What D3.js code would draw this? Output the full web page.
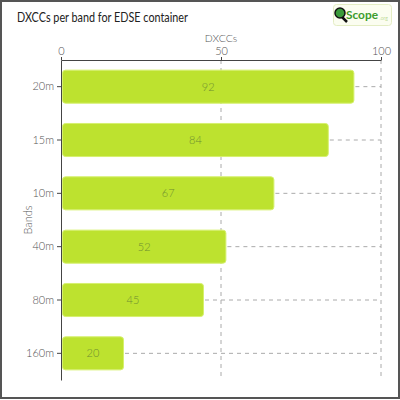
<!DOCTYPE html>
<html><head><meta charset="utf-8">
<script src="https://cdn.jsdelivr.net/npm/d3@7"></script>
<style>
html,body{margin:0;padding:0;background:#fff;}
svg{display:block;font-family:Lato,"Open Sans",sans-serif;font-weight:300;}
</style></head>
<body>
<svg id="c" width="400" height="400"></svg>
<script>
const bands = ["20m","15m","10m","40m","80m","160m"];
const dxccs = [92,84,67,52,45,20];
const xTicks = [0,50,100];
const title = "DXCCs per band for EDSE container";
const xLabel = "DXCCs";
const yLabel = "Bands";

const svg = d3.select("#c");
// outer frame
svg.append("rect").attr("x",1).attr("y",1).attr("width",398).attr("height",397)
  .attr("fill","#fff").attr("stroke","#555").attr("stroke-width",2);

svg.append("text").attr("x",17).attr("y",22).attr("font-size",12.5).attr("fill","#222")
  .attr("textLength",171).attr("lengthAdjust","spacingAndGlyphs")
  .attr("font-weight",400).text(title);

// logo
const lg = svg.append("g").attr("transform","translate(333,4)");
lg.append("rect").attr("x",0.5).attr("y",0.5).attr("width",58).attr("height",21).attr("rx",3)
  .attr("fill","#fbfdf0").attr("stroke","#e4edc4");
lg.append("line").attr("x1",8).attr("y1",12).attr("x2",14).attr("y2",18).attr("stroke","#111").attr("stroke-width",2.5);
lg.append("circle").attr("cx",7).attr("cy",9).attr("r",5).attr("fill","#3a9a3a").attr("stroke","#111").attr("stroke-width",1.5);
lg.append("text").attr("x",13).attr("y",15).attr("font-size",12).attr("font-weight",700)
  .attr("textLength",32).attr("lengthAdjust","spacingAndGlyphs")
  .attr("fill","#3c9c2c").text("Scope");
lg.append("text").attr("x",46.5).attr("y",16).attr("font-size",5).attr("fill","#8cc04a").text(".org");

const m = {l:61, r:381, t:60, b:380};
const x = d3.scaleLinear().domain([0,100]).range([m.l,m.r]);
const y = d3.scaleBand().domain(bands).range([m.t,m.b]).paddingInner(0.38).paddingOuter(0.19);

// vertical grid
svg.append("g").selectAll("line").data(xTicks.filter(d=>d>0)).join("line")
  .attr("x1",d=>x(d)).attr("x2",d=>x(d)).attr("y1",m.t).attr("y2",m.b)
  .attr("stroke","#aaa").attr("stroke-dasharray","4,4");

// horizontal dashed lines from bar end
svg.append("g").selectAll("line").data(dxccs).join("line")
  .attr("x1",d=>x(d)).attr("x2",m.r).attr("y1",(d,i)=>y(bands[i])+y.bandwidth()/2)
  .attr("y2",(d,i)=>y(bands[i])+y.bandwidth()/2)
  .attr("stroke","#aaa").attr("stroke-dasharray","4,4");

// bars
svg.append("g").selectAll("rect").data(dxccs).join("rect")
  .attr("x",x(0)+1.5).attr("y",(d,i)=>y(bands[i]))
  .attr("width",d=>x(d)-x(0)-3).attr("height",y.bandwidth())
  .attr("rx",3).attr("fill","#bde22f").attr("stroke","#d6f06e").attr("stroke-width",1);

svg.append("g").selectAll("text").data(dxccs).join("text")
  .attr("x",d=>(x(0)+x(d))/2).attr("y",(d,i)=>y(bands[i])+y.bandwidth()/2)
  .attr("dy","0.35em").attr("text-anchor","middle").attr("font-size",11)
  .attr("fill","#6f8f2f").text(d=>d);

// axes
const xa = svg.append("g").attr("transform",`translate(0,${m.t})`)
  .call(d3.axisTop(x).tickValues(xTicks).tickSize(3).tickPadding(2).tickSizeOuter(0));
xa.select(".domain").attr("stroke","#444");
xa.selectAll(".tick line").attr("stroke","#444");
xa.selectAll("text").attr("font-size",11).attr("fill","#555").attr("font-family","Lato,sans-serif");

const ya = svg.append("g").attr("transform",`translate(${m.l},0)`)
  .call(d3.axisLeft(y).tickSize(4).tickSizeOuter(0));
ya.select(".domain").attr("stroke","#444");
ya.selectAll(".tick line").attr("stroke","#444");
ya.selectAll("text").attr("font-size",11).attr("fill","#555").attr("font-family","Lato,sans-serif");

svg.append("text").attr("x",(m.l+m.r)/2).attr("y",42).attr("text-anchor","middle")
  .attr("font-size",10.5).attr("fill","#555").text(xLabel);
svg.append("text").attr("transform",`translate(32,${(m.t+m.b)/2}) rotate(-90)`)
  .attr("text-anchor","middle").attr("font-size",11).attr("fill","#555").text(yLabel);
</script>
</body></html>
